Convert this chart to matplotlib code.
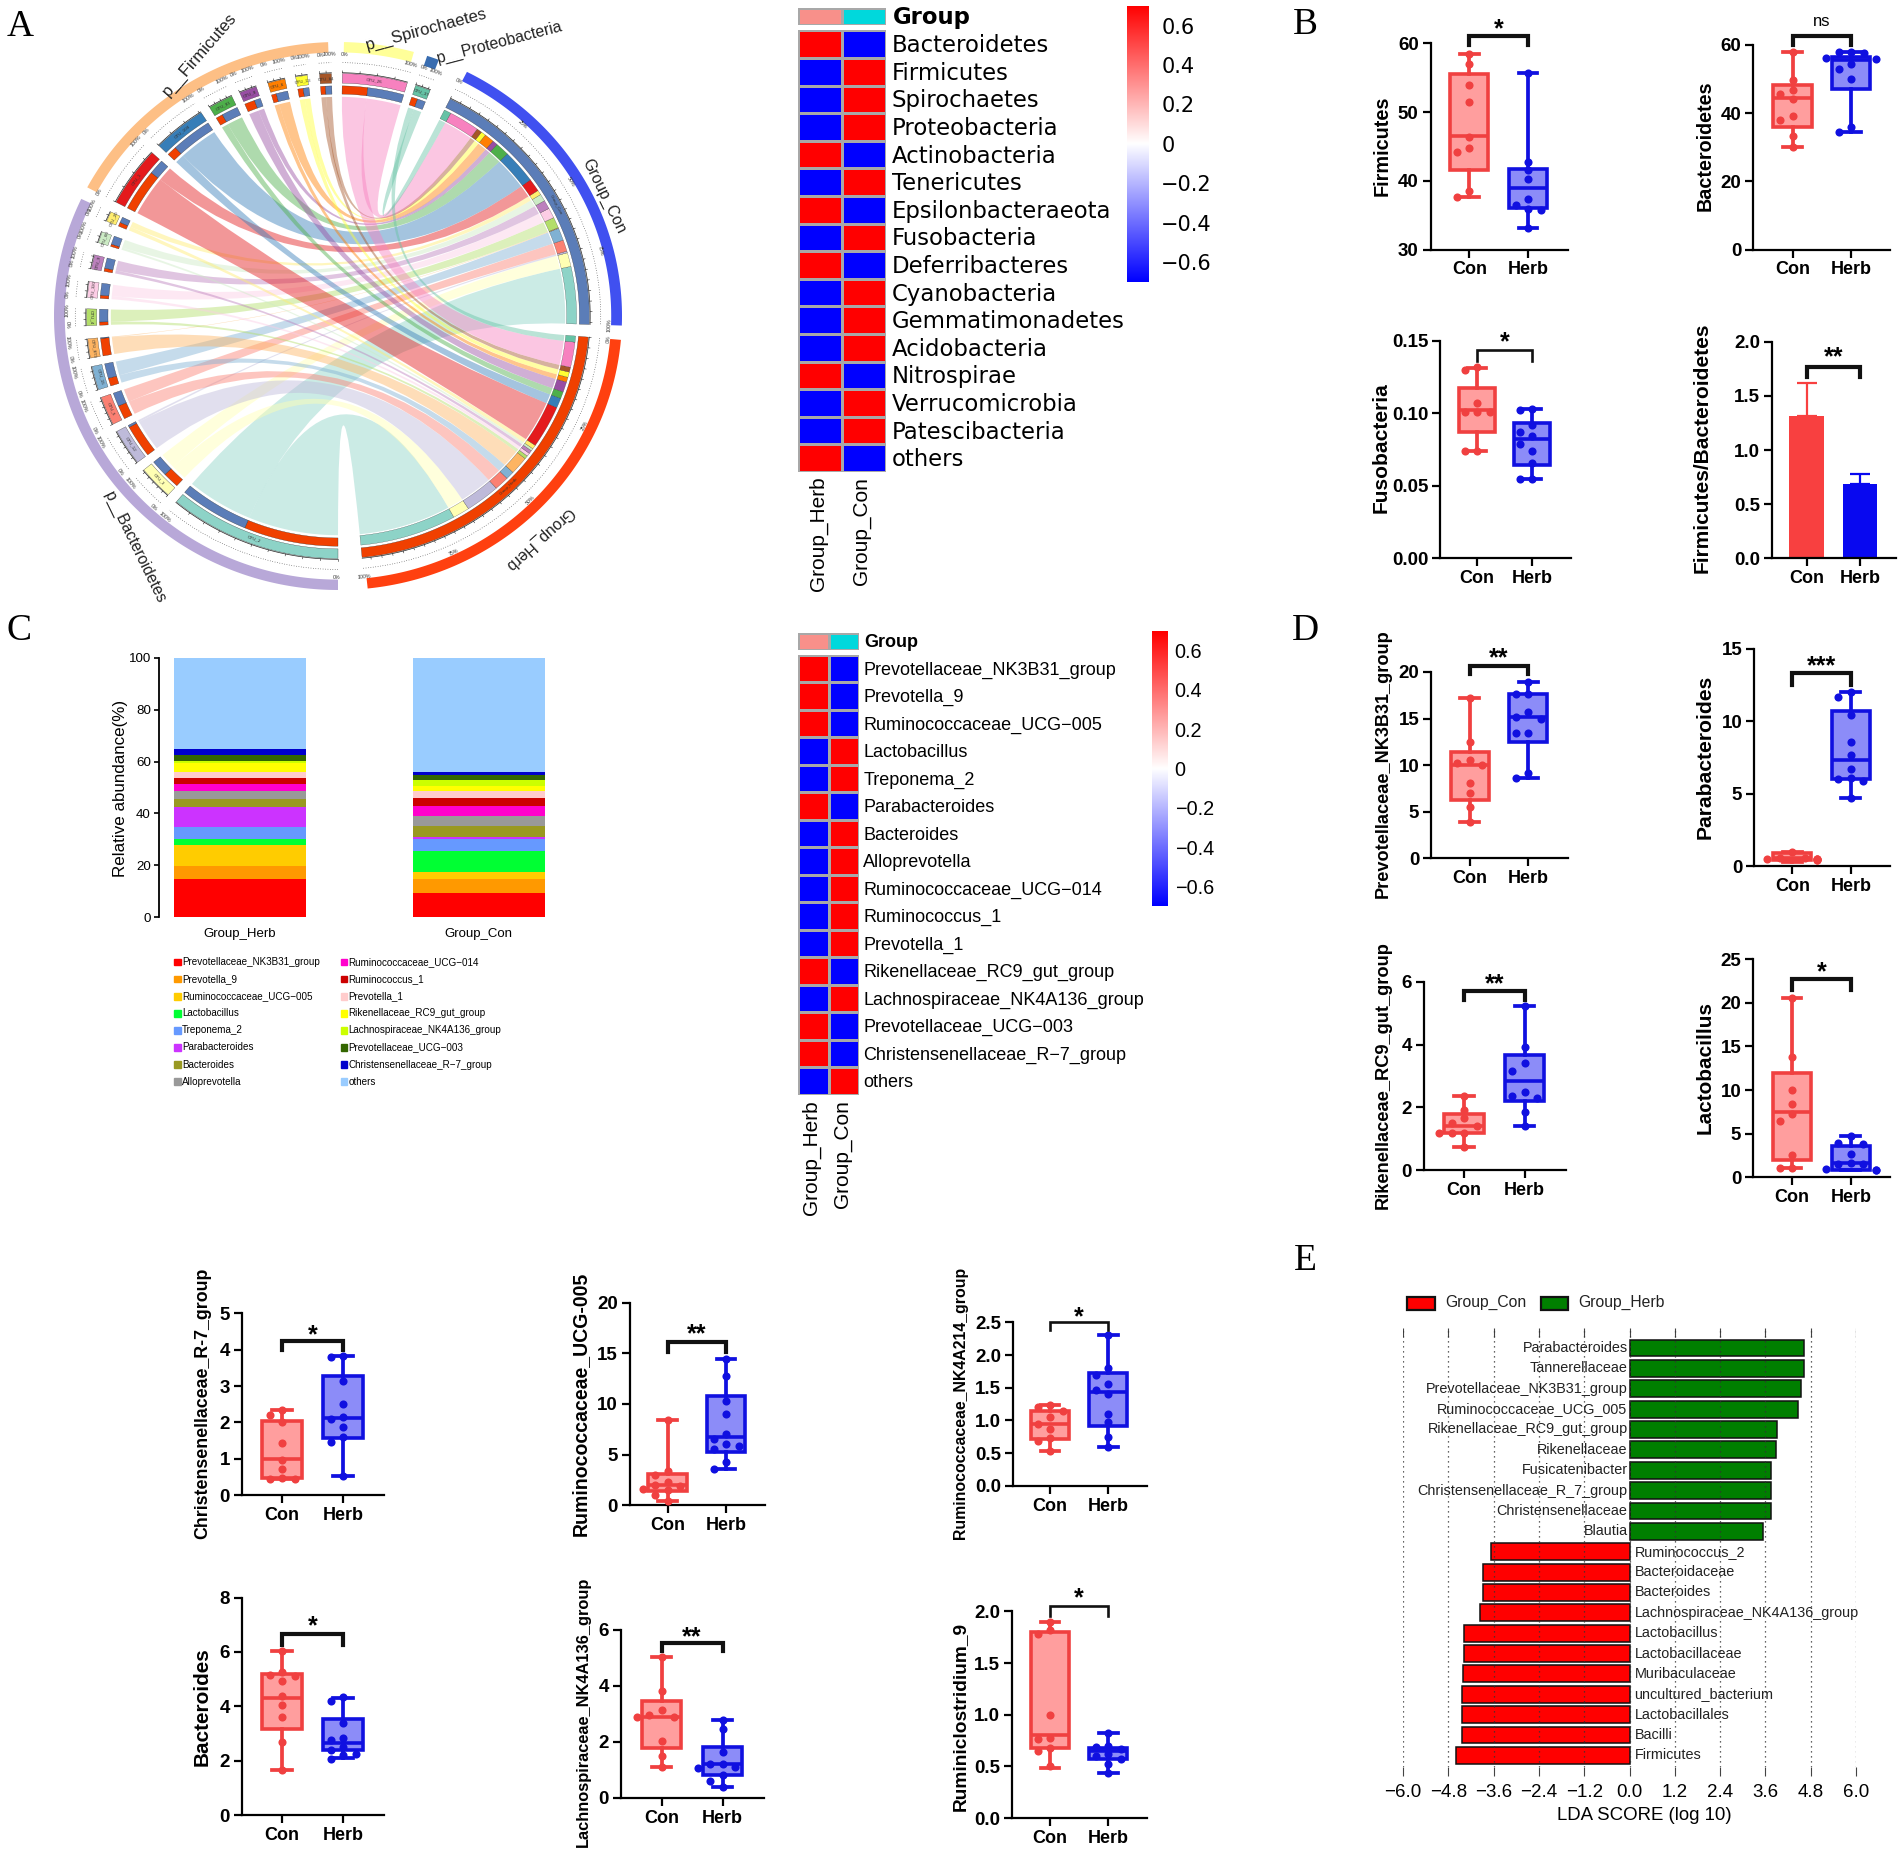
import numpy as np
import matplotlib
matplotlib.use('Agg')
import matplotlib.pyplot as plt
from matplotlib.colors import LinearSegmentedColormap, ListedColormap
from matplotlib.lines import Line2D
from matplotlib.patches import PathPatch, Rectangle
from matplotlib.path import Path
from matplotlib.transforms import ScaledTranslation

plt.rcParams['font.family'] = ['Liberation Sans', 'DejaVu Sans']

W, H = 1902, 1854

# ---- chord diagram (A) : sector name, colour, Herb part, Con part
otu_names = ['OTU_2', 'OTU_3', 'OTU_12', 'OTU_5', 'OTU_15', 'OTU_873', 'OTU_4', 'OTU_320', 'OTU_9', 'OTU_60', 'OTU_20',
             'OTU_1', 'OTU_104', 'OTU_81', 'OTU_8', 'OTU_6', 'OTU_13', 'OTU_84', 'OTU_26', 'OTU_37']
otu_colors = ['#8DD3C7', '#FFFFB3', '#BEBADA', '#FB8072', '#80B1D3', '#FDB462', '#B3DE69', '#FCCDE5', '#BC80BD', '#CCEBC5', '#FFED6F',
              '#E41A1C', '#377EB8', '#4DAF4A', '#984EA3', '#FF7F00', '#FFFF33', '#A65628', '#F781BF', '#66C2A5']
otu_herb = [23, 4, 8.2, 3.5, 2, 4.4, .8, .8, .8, .6, 1, 10.5, 2.4, 1.7, 2.5, 1.2, 1.3, 1.2, 6.2, 1.5]
otu_con = [17, 4.1, .5, 3.4, 3.7, .2, 3.2, 3, 2.6, 2.1, 1.4, 3.8, 10, 4, 1.5, 2.8, 1.4, 1.5, 8.8, 2]
otu_gap_after = [2.5, 2.3, 1.9, 1.9, 2, 3.1, 2.7, 3, 3, 2.7, 2.6, 2.3, 2.3, 2, 2.8, 2.5, 2.8, 2.5, 2, 0]
phylum_names = ['p__Bacteroidetes', 'p__Firmicutes', 'p__Spirochaetes', 'p__Proteobacteria']
phylum_colors = ['#B8A8D8', '#FDBF85', '#FFFF99', '#386CB0']
phylum_spans = [(180, 295.3), (298, 358), (1.2, 15.5), (18.3, 20.8)]

# ---- heatmaps
phyla = ['Bacteroidetes', 'Firmicutes', 'Spirochaetes', 'Proteobacteria', 'Actinobacteria', 'Tenericutes',
         'Epsilonbacteraeota', 'Fusobacteria', 'Deferribacteres', 'Cyanobacteria', 'Gemmatimonadetes',
         'Acidobacteria', 'Nitrospirae', 'Verrucomicrobia', 'Patescibacteria', 'others']
phyla_herb = [.7, -.7, -.7, -.7, .7, -.7, .7, -.7, .7, -.7, -.7, -.7, .7, -.7, -.7, .7]
genera = ['Prevotellaceae_NK3B31_group', 'Prevotella_9', 'Ruminococcaceae_UCG\u2212005', 'Lactobacillus', 'Treponema_2',
          'Parabacteroides', 'Bacteroides', 'Alloprevotella', 'Ruminococcaceae_UCG\u2212014', 'Ruminococcus_1',
          'Prevotella_1', 'Rikenellaceae_RC9_gut_group', 'Lachnospiraceae_NK4A136_group',
          'Prevotellaceae_UCG\u2212003', 'Christensenellaceae_R\u22127_group', 'others']
genera_herb = [.7, .7, .7, -.7, -.7, .7, -.7, -.7, -.7, -.7, -.7, .7, -.7, .7, .7, -.7]
cbar_ticks = [.6, .4, .2, 0, -.2, -.4, -.6]

# ---- stacked bars (C)
stack_names = ['Prevotellaceae_NK3B31_group', 'Prevotella_9', 'Ruminococcaceae_UCG\u2212005', 'Lactobacillus', 'Treponema_2',
               'Parabacteroides', 'Bacteroides', 'Alloprevotella', 'Ruminococcaceae_UCG\u2212014', 'Ruminococcus_1',
               'Prevotella_1', 'Rikenellaceae_RC9_gut_group', 'Lachnospiraceae_NK4A136_group',
               'Prevotellaceae_UCG\u2212003', 'Christensenellaceae_R\u22127_group', 'others']
stack_colors = ['#FF0000', '#FF9900', '#FFCC00', '#00FF33', '#6699FF', '#CC33FF', '#999922', '#999999',
                '#FF00CC', '#CC0000', '#FFCCCC', '#FFFF00', '#CCFF00', '#336600', '#0000CC', '#99CCFF']
stack_herb = [14.6, 5, 8.1, 2.3, 4.8, 7.8, 3, 2.9, 3, 2, 2.5, 3.6, .8, 2, 2.6, 35]
stack_con = [9.5, 5.1, 3, 7.9, 4.8, .8, 4.2, 3.7, 3.9, 3.2, 2.4, 2, 2.5, 1.7, 1.4, 43.9]

# ---- LDA (E)
lda_names = ['Parabacteroides', 'Tannerellaceae', 'Prevotellaceae_NK3B31_group', 'Ruminococcaceae_UCG_005',
             'Rikenellaceae_RC9_gut_group', 'Rikenellaceae', 'Fusicatenibacter', 'Christensenellaceae_R_7_group',
             'Christensenellaceae', 'Blautia', 'Ruminococcus_2', 'Bacteroidaceae', 'Bacteroides',
             'Lachnospiraceae_NK4A136_group', 'Lactobacillus', 'Lactobacillaceae', 'Muribaculaceae',
             'uncultured_bacterium', 'Lactobacillales', 'Bacilli', 'Firmicutes']
lda_vals = [4.61, 4.61, 4.53, 4.46, 3.91, 3.89, 3.76, 3.75, 3.75, 3.53, -3.66, -3.89, -3.89, -3.96,
            -4.40, -4.40, -4.42, -4.43, -4.45, -4.45, -4.61]
lda_ticks = [-6, -4.8, -3.6, -2.4, -1.2, 0, 1.2, 2.4, 3.6, 4.8, 6]

# ---- bar panel (F/B)
fb_means = [1.31, .69]
fb_err = [.31, .09]

# ---- box panels : points, then whisker low, q1, median, q3, whisker high
firm_con = [58.5, 57, 54, 51.4, 46.4, 44.8, 44.2, 38.5, 37.6]
firm_herb = [55.7, 42.8, 41.6, 40.3, 37.3, 36.5, 35.8, 35.9, 33.2]
firm_con_box = [37.7, 41.5, 46.5, 55.5, 58.5]
firm_herb_box = [33.2, 36, 38.9, 41.7, 55.7]
bact_con = [57.8, 49.8, 46.8, 45.5, 44.2, 39.2, 38.1, 33.3, 30]
bact_herb = [58, 57.8, 57.5, 56.2, 55.8, 54.5, 52.8, 50, 35.8, 34.4]
bact_con_box = [30, 36, 44.3, 48.2, 57.8]
bact_herb_box = [34.5, 47, 55.5, 56.5, 58]
fuso_con = [.132, .130, .107, .101, .101, .101, .074, .074]
fuso_herb = [.103, .102, .092, .087, .084, .079, .074, .066, .055, .055]
fuso_con_box = [.074, .087, .102, .117, .131]
fuso_herb_box = [.055, .064, .082, .093, .103]
nk3b_con = [17.2, 12.5, 10.5, 10.2, 10, 8.1, 7, 5.5, 3.9]
nk3b_herb = [18.9, 17.6, 17.6, 15.7, 15.2, 15, 13.5, 13.4, 9.2, 8.6]
nk3b_con_box = [3.9, 6.3, 10, 11.4, 17.2]
nk3b_herb_box = [8.6, 12.5, 15.2, 17.6, 18.9]
para_con = [1, .55, .5, .5, .45, .45, .5, .5, .55]
para_herb = [12, 11.7, 10.4, 8.6, 7.7, 6.7, 6.1, 6, 5.9, 4.7]
para_con_box = [.3, .4, .6, .9, 1]
para_herb_box = [4.7, 6, 7.3, 10.7, 12]
rc9_con = [2.35, 1.93, 1.65, 1.5, 1.42, 1.2, 1.18, 1.18, .75]
rc9_herb = [5.22, 3.92, 3.4, 3.15, 2.5, 2.35, 2.3, 1.85, 1.4]
rc9_con_box = [.73, 1.18, 1.42, 1.78, 2.35]
rc9_herb_box = [1.4, 2.2, 2.85, 3.67, 5.22]
lacto_con = [20.5, 13.8, 10, 8.4, 7.3, 6.5, 2.6, 1.1, 1.1]
lacto_herb = [4.7, 3.9, 3.8, 2.7, 1.6, 1.5, 1.5, 1, .9, .9]
lacto_con_box = [1.1, 2, 7.5, 11.9, 20.5]
lacto_herb_box = [.9, .9, 1.7, 3.6, 4.7]
r7_con = [2.35, 2.2, 2, 1.42, .97, .72, .47, .45, .45]
r7_herb = [3.83, 3.8, 3.13, 2.5, 2.15, 2.1, 1.88, 1.6, 1.45, .52]
r7_con_box = [.45, .47, 1, 2.05, 2.35]
r7_herb_box = [.52, 1.58, 2.12, 3.28, 3.83]
u005_con = [8.4, 3.4, 3, 2.3, 2, 1.9, 1.6, 1.5, 1, .4]
u005_herb = [14.4, 12.8, 10.3, 9, 7, 6.5, 6, 5.8, 5.6, 4.3, 3.6]
u005_con_box = [.4, 1.4, 2, 3.1, 8.4]
u005_herb_box = [3.6, 5.3, 6.7, 10.8, 14.4]
nk214_con = [1.23, 1.2, 1.15, 1.05, .95, .87, .73, .68, .53]
nk214_herb = [2.3, 1.8, 1.7, 1.55, 1.47, 1.4, 1.1, .97, .74, .6]
nk214_con_box = [.53, .72, .95, 1.15, 1.23]
nk214_herb_box = [.6, .92, 1.44, 1.72, 2.3]
bdes_con = [6.03, 5.25, 5.15, 5.12, 4.95, 4.38, 4.05, 3.62, 2.68, 1.68]
bdes_herb = [4.35, 4.2, 3.4, 2.85, 2.75, 2.5, 2.4, 2.25, 2.2, 2.05]
bdes_con_box = [1.68, 3.18, 4.32, 5.18, 6.03]
bdes_herb_box = [2.1, 2.4, 2.65, 3.55, 4.32]
nk136_con = [5.03, 3.83, 3.13, 2.95, 2.9, 2.88, 2.03, 1.5, 1.1]
nk136_herb = [2.77, 2.47, 1.63, 1.22, 1.2, 1.1, 1.08, .83, .6, .4]
nk136_con_box = [1.1, 1.8, 2.9, 3.47, 5.03]
nk136_herb_box = [.4, .83, 1.2, 1.82, 2.77]
rumi_con = [1.9, 1.82, 1.78, 1, .78, .77, .68, .65, .5]
rumi_herb = [.82, .7, .69, .67, .62, .6, .57, .52, .44]
rumi_con_box = [.49, .68, .8, 1.8, 1.9]
rumi_herb_box = [.44, .57, .65, .68, .82]

RED, RED_FILL = '#F04040', '#FF9E9E'
BLUE, BLUE_FILL = '#1010E0', '#8C8CF8'

fig = plt.figure(figsize=(W / 100, H / 100), dpi=100)
rend = fig.canvas.get_renderer()


def axpx(l, t, r, b):
    return fig.add_axes([l / W, 1 - b / H, (r - l) / W, (b - t) / H])


def tpx(x, y, s, **kw):
    return fig.text(x / W, 1 - y / H, s, **kw)


def fit(t, span):
    # scale the font so the text is as long as the picture has it
    bb = t.get_window_extent(rend)
    t.set_fontsize(t.get_fontsize() * span / max(bb.width, bb.height))


def swarm(vals, step, near):
    # prism style spreading, in pixels
    placed = []
    for v in sorted(vals, reverse=True):
        for k in [0, -1, 1, -2, 2]:
            if all(abs(k * step - x) > 1 or abs(v - y) > near for x, y in placed):
                break
        placed.append((k * step, v))
    return placed


def bracket(xc, xh, top, bot, star, star_y, lw=3):
    fig.add_artist(Line2D([xc / W, xc / W, xh / W, xh / W],
                          [1 - bot / H, 1 - top / H, 1 - top / H, 1 - bot / H],
                          color='#111111', lw=lw, solid_joinstyle='miter'))
    if star == 'ns':
        tpx((xc + xh) / 2, star_y, star, ha='center', va='center', fontsize=12)
    else:
        tpx((xc + xh) / 2, star_y + 13, star, ha='center', va='baseline', fontsize=18, fontweight='bold')


def base_axes(geo, yticks, fmt):
    l, r, t, b, xc, xh = geo
    ax = axpx(l, t, r, b)
    u = xh - xc
    ax.set_xlim(1 - (xc - l) / u, 2 + (r - xh) / u)
    ax.set_ylim(yticks[0], yticks[-1])
    ax.patch.set_alpha(0)
    for s in ['top', 'right']:
        ax.spines[s].set_visible(False)
    for s in ['left', 'bottom']:
        ax.spines[s].set_linewidth(1.6)
    ax.set_xticks([1, 2])
    labs = ax.set_xticklabels(['Con', 'Herb'], fontsize=13, fontweight='bold')
    labs[0].set_transform(labs[0].get_transform() + ScaledTranslation(-2.5 / 72, 0, fig.dpi_scale_trans))
    ax.set_yticks(yticks)
    ax.set_yticklabels([fmt % v for v in yticks], fontsize=13.5, fontweight='bold')
    ax.tick_params(length=5.5, width=1.6, pad=3)
    return ax


def box_panel(name, con, herb, con_box, herb_box, yticks, fmt, geo, br, lab):
    l, r, t, b, xc, xh = geo
    ax = base_axes(geo, yticks, fmt)
    u = xh - xc
    scale = (b - t) / (yticks[-1] - yticks[0])
    for pos, pts, st, col, fill in [(1, con, con_box, RED, RED_FILL), (2, herb, herb_box, BLUE, BLUE_FILL)]:
        stats = [dict(whislo=st[0], q1=st[1], med=st[2], q3=st[3], whishi=st[4], fliers=[])]
        ax.bxp(stats, positions=[pos], widths=.65, patch_artist=True, showfliers=False, capwidths=.32,
               manage_ticks=False,
               boxprops=dict(facecolor=fill, edgecolor=col, lw=2.6),
               medianprops=dict(color=col, lw=2.6),
               whiskerprops=dict(color=col, lw=2.7),
               capprops=dict(color=col, lw=2.7))
        sw = swarm(pts, 12.5, 8 / scale)
        ax.scatter([pos + p[0] / u for p in sw], [p[1] for p in sw], s=34, color=col, zorder=5, clip_on=False,
                   linewidths=0)
    bracket(xc, xh, *br)
    t_ = tpx(lab[0], lab[1], name, rotation=90, ha='center', va='center', fontsize=13, fontweight='bold')
    fit(t_, lab[2])
    return ax


box_panel('Firmicutes', firm_con, firm_herb, firm_con_box, firm_herb_box, [30, 40, 50, 60], '%d',
          (1430.5, 1567.6, 43.4, 249.5, 1469.3, 1528), (35.7, 45.3, '*', 23), (1382.5, 145.4, 100))
box_panel('Bacteroidetes', bact_con, bact_herb, bact_con_box, bact_herb_box, [0, 20, 40, 60], '%d',
          (1753.4, 1890, 44.9, 249.5, 1792.5, 1851.2), (35.7, 45.3, 'ns', 21), (1705, 146.2, 130))
box_panel('Fusobacteria', fuso_con, fuso_herb, fuso_con_box, fuso_herb_box, [0, .05, .10, .15], '%.2f',
          (1440, 1570.6, 340.5, 558.5, 1477, 1532.2), (350, 361, '*', 336, 1.9), (1381.4, 447.8, 130))
box_panel('Prevotellaceae_NK3B31_group', nk3b_con, nk3b_herb, nk3b_con_box, nk3b_herb_box, [0, 5, 10, 15, 20], '%d',
          (1431, 1567.6, 672, 858.3, 1469.7, 1528.2), (666, 674, '**', 652.7), (1383, 764, 267))
box_panel('Parabacteroides', para_con, para_herb, para_con_box, para_herb_box, [0, 5, 10, 15], '%d',
          (1754, 1890, 648.7, 866.2, 1792.3, 1850.8), (673, 685, '***', 660), (1705.6, 757, 164))
box_panel('Rikenellaceae_RC9_gut_group', rc9_con, rc9_herb, rc9_con_box, rc9_herb_box, [0, 2, 4, 6], '%d',
          (1423.5, 1565.8, 981.7, 1170.3, 1464, 1524.6), (990.8, 999.5, '**', 978.5), (1383.7, 1075, 268))
box_panel('Lactobacillus', lacto_con, lacto_herb, lacto_con_box, lacto_herb_box, [0, 5, 10, 15, 20, 25], '%d',
          (1753, 1890, 959, 1177.4, 1792, 1850.8), (979, 990.4, '*', 966), (1705.6, 1067.5, 132.5))
box_panel('Christensenellaceae_R-7_group', r7_con, r7_herb, r7_con_box, r7_herb_box, [0, 1, 2, 3, 4, 5], '%d',
          (241.7, 383.6, 1313.4, 1495, 282, 343.3), (1340.9, 1350.3, '*', 1329), (202.5, 1403.7, 269))
box_panel('Ruminococcaceae_UCG-005', u005_con, u005_herb, u005_con_box, u005_herb_box, [0, 5, 10, 15, 20], '%d',
          (629.6, 765.2, 1302.5, 1505.3, 667.5, 726), (1342, 1352, '**', 1328.8), (580, 1403.7, 265))
box_panel('Ruminococcaceae_NK4A214_group', nk214_con, nk214_herb, nk214_con_box, nk214_herb_box,
          [0, .5, 1, 1.5, 2, 2.5], '%.1f',
          (1012.7, 1146.7, 1322.4, 1485.7, 1050, 1108.3), (1322, 1330, '*', 1311.6, 1.9), (960.7, 1403, 271.6))
box_panel('Bacteroides', bdes_con, bdes_herb, bdes_con_box, bdes_herb_box, [0, 2, 4, 6, 8], '%d',
          (241.7, 383.6, 1597.5, 1815.3, 282, 343), (1633.6, 1644.5, '*', 1620), (202.5, 1706.6, 118.5))
box_panel('Lachnospiraceae_NK4A136_group', nk136_con, nk136_herb, nk136_con_box, nk136_herb_box, [0, 2, 4, 6], '%d',
          (620.9, 763.6, 1629.8, 1798, 661.6, 722.5), (1642.6, 1650.5, '**', 1631.7), (583.3, 1712, 269))
box_panel('Ruminiclostridium_9', rumi_con, rumi_herb, rumi_con_box, rumi_herb_box, [0, .5, 1, 1.5, 2], '%.1f',
          (1011.7, 1146.7, 1611.3, 1818.2, 1050, 1108.3), (1606, 1616, '*', 1592, 1.9), (960.7, 1716, 189))

# F/B bars
geo = (1771.8, 1895.8, 341.6, 558.5, 1806.7, 1860)
ax = base_axes(geo, [0, .5, 1, 1.5, 2], '%.1f')
ax.bar([1], fb_means[0], width=.65, color='#F84040')
ax.bar([2], fb_means[1], width=.65, color='#0808F0')
ax.errorbar([1], fb_means[0], yerr=[[0], [fb_err[0]]], color='#F84040', capsize=7.5, lw=1.6, capthick=1.6)
ax.errorbar([2], fb_means[1], yerr=[[0], [fb_err[1]]], color='#0808F0', capsize=7.5, lw=1.6, capthick=1.6)
bracket(geo[4], geo[5], 366.6, 377, '**', 351)
fit(tpx(1702.3, 447.8, 'Firmicutes/Bacteroidetes', rotation=90, ha='center', va='center', fontsize=13,
        fontweight='bold'), 249)

# heatmaps
bwr = LinearSegmentedColormap.from_list('bwr2', ['#0000FF', '#FFFFFF', '#FF0000'])


def heat(names, herb, l, r, t, b, gt, gb, lx, fs, fam, gx, colx, coltop, cb, cticks_x, cfs):
    ax = axpx(l, t, r, b)
    vals = np.array([herb, [-v for v in herb]]).T
    ax.pcolormesh(vals, cmap=bwr, vmin=-.7, vmax=.7, edgecolors='#A8A8A8', linewidth=1)
    ax.set_ylim(len(names), 0)
    ax.axis('off')
    ag = axpx(l, gt, r, gb)
    ag.pcolormesh(np.array([[0, 1]]), cmap=ListedColormap(['#F8908A', '#00D8DC']), edgecolors='#A8A8A8', linewidth=1)
    ag.axis('off')
    rh = (b - t) / len(names)
    for i, n in enumerate(names):
        tpx(lx, t + (i + .5) * rh + 1.5, n, ha='left', va='center', fontsize=fs, family=fam)
    tpx(gx, (gt + gb) / 2 + 1.5, 'Group', ha='left', va='center', fontsize=fs, fontweight='bold', family=fam)
    tpx(colx[0], coltop, 'Group_Herb', rotation=90, ha='center', va='top', fontsize=15)
    tpx(colx[1], coltop, 'Group_Con', rotation=90, ha='center', va='top', fontsize=15)
    ac = axpx(*cb)
    ac.imshow(np.linspace(.7, -.7, 256)[:, None], cmap=bwr, vmin=-.7, vmax=.7, aspect='auto', extent=(0, 1, -.7, .7))
    ac.set_xticks([])
    ac.yaxis.tick_right()
    ac.set_yticks(cbar_ticks)
    ac.set_yticklabels([('%g' % v).replace('-', '\u2212') for v in cbar_ticks], fontsize=cfs, family=fam)
    ac.tick_params(length=0, pad=cticks_x)
    for s in ac.spines.values():
        s.set_visible(False)


heat(phyla, phyla_herb, 798.3, 886, 30.4, 472, 7.8, 25, 891.7, 16.4, ['DejaVu Sans'], 892.5, (818, 861.7), 476.7,
     (1127, 5.8, 1148.7, 282), 9, 15)
heat(genera, genera_herb, 798.3, 859, 655, 1094.7, 632.8, 650, 863.3, 13, ['Liberation Sans'], 864, (811.7, 842.3),
     1100.5, (1151.7, 631, 1167, 906), 5.5, 14.3)

# stacked bars
ax = axpx(158.7, 657.7, 560, 917.3)
ax.set_xlim(-(239.8 - 158.7) / 238.9, (560 - 239.8) / 238.9)
ax.set_ylim(0, 100)
bot_h, bot_c = 0, 0
for nm, c, vh, vc in zip(stack_names, stack_colors, stack_herb, stack_con):
    ax.bar(0, vh, bottom=bot_h, width=.551, color=c, linewidth=0)
    ax.bar(1, vc, bottom=bot_c, width=.551, color=c, linewidth=0)
    bot_h += vh
    bot_c += vc
for s in ['top', 'right', 'bottom']:
    ax.spines[s].set_visible(False)
ax.spines['left'].set_linewidth(1.3)
ax.set_xticks([0, 1])
ax.set_xticklabels(['Group_Herb', 'Group_Con'], fontsize=9.5)
ax.tick_params(axis='x', length=0, pad=8)
ax.set_yticks(range(0, 101, 20))
ax.tick_params(axis='y', length=3.6, width=1.2, labelsize=9.6, pad=2)
fit(tpx(120.7, 788, 'Relative abundance(%)', rotation=90, ha='center', va='center', fontsize=12), 177)
for i, (nm, c) in enumerate(zip(stack_names, stack_colors)):
    col, row = divmod(i, 8)
    x0 = 174 + col * 166.7
    y0 = 962 + row * 17.1
    fig.add_artist(Rectangle((x0 / W, 1 - (y0 + 3.3) / H), 6.5 / W, 6.6 / H, color=c, transform=fig.transFigure))
    tpx(x0 + 7.8, y0, nm, ha='left', va='center', fontsize=7.1)

# LDA
pxu = (1856 - 1403.2) / 12
row_h = 20.35
ax = axpx(1403.2, 1328, 1856, 1766.9)
ax.set_xlim(-6, 6)
y_top = -(1348 - 1328) / row_h
ax.set_ylim(20 + (1766.9 - 1755.4) / row_h, y_top)
ax.barh(range(len(lda_vals)), lda_vals, height=.83, color=['#007F00' if v > 0 else '#FF0000' for v in lda_vals],
        edgecolor='#111111', linewidth=1.1, zorder=2)
for s in ax.spines.values():
    s.set_visible(False)
ax.set_xticks(lda_ticks)
ax.set_xticklabels([('%.1f' % v).replace('-', '\u2212') for v in lda_ticks], fontsize=13.5)
ax.tick_params(axis='x', length=6.5, width=.8, color='#444444', pad=6)
ax.set_yticks([])
ax.vlines(lda_ticks, y_top, y_top + 9 / row_h, color='#444444', lw=.8)
ax.grid(axis='x', ls=(0, (1, 3)), color='#333333', lw=.9, zorder=3)
ax.set_axisbelow(False)
for i, (n, v) in enumerate(zip(lda_names, lda_vals)):
    if v > 0:
        ax.text(-2 / pxu, i, n, ha='right', va='center', fontsize=10.4, color='#222222')
    else:
        ax.text(5 / pxu, i, n, ha='left', va='center', fontsize=10.4, color='#222222')
tpx(1644, 1815.7, 'LDA SCORE (log 10)', ha='center', va='center', fontsize=13.4)
for x0, c, nm, tx in [(1407.4, '#FF0000', 'Group_Con', 1445.4), (1540.8, '#007F00', 'Group_Herb', 1578.5)]:
    fig.add_artist(Rectangle((x0 / W, 1 - 1310 / H), 27.6 / W, 13 / H, facecolor=c, edgecolor='#111111', lw=1.6,
                             transform=fig.transFigure))
    tpx(tx, 1302.6, nm, ha='left', va='center', fontsize=11.3, color='#222222')

# chord diagram
CX, CY, RX, RY = 338, 316, 284, 274
PAD = 1.1
ax = axpx(CX - RX * PAD, CY - RY * PAD, CX + RX * PAD, CY + RY * PAD)
ax.set_xlim(-PAD, PAD)
ax.set_ylim(-PAD, PAD)
ax.axis('off')


def pol(a, r):
    th = np.radians(a)
    return r * np.sin(th), r * np.cos(th)


def band(a1, a2, r1, r2, color, ec='none', lw=0., z=3):
    n = max(int(abs(a2 - a1)) * 2, 4)
    aa = np.linspace(a1, a2, n)
    xo, yo = pol(aa, r2)
    xi, yi = pol(aa[::-1], r1)
    ax.fill(np.r_[xo, xi], np.r_[yo, yi], color=color, ec=ec, lw=lw, zorder=z)


def tiny(a, r, s, fs=3.8):
    x, y = pol(a, r)
    rot = -a if (a % 360 < 90 or a % 360 > 270) else 180 - a
    ax.text(x, y, s, ha='center', va='center', rotation=rot, fontsize=fs, color='#333333', zorder=6)


def dotted(a1, a2, r):
    x, y = pol(np.linspace(a1, a2, max(int(abs(a2 - a1)) * 2, 3)), r)
    ax.plot(x, y, ls=(0, (1, 2.5)), lw=.5, color='#444444', zorder=2)


def ruler(a1, a2, r, step):
    x, y = pol(np.linspace(a1, a2, max(int(abs(a2 - a1)) * 2, 3)), r)
    ax.plot(x, y, lw=.5, color='#222222', zorder=4)
    for a in np.arange(a1, a2, step):
        x0, y0 = pol(a, r)
        x1, y1 = pol(a, r + .007)
        ax.plot([x0, x1], [y0, y1], lw=.4, color='#222222', zorder=4)


def ribbon(a1, a2, b1, b2, color, r=.80):
    aa = np.linspace(a1, a2, max(int(a2 - a1) + 2, 3))
    bb = np.linspace(b1, b2, max(int(b2 - b1) + 2, 3))
    pa = np.array(pol(aa, r)).T
    pb = np.array(pol(bb, r)).T
    verts = list(pa) + [(0, 0), pb[0]] + list(pb[1:]) + [(0, 0), pa[0]]
    codes = [Path.MOVETO] + [Path.LINETO] * (len(pa) - 1) + [Path.CURVE3, Path.CURVE3] + \
            [Path.LINETO] * (len(pb) - 1) + [Path.CURVE3, Path.CURVE3]
    ax.add_patch(PathPatch(Path(verts, codes), facecolor=color, edgecolor='none', alpha=.45, zorder=1))


CON_SPAN = (26.5, 92.)
HERB_SPAN = (95., 174.5)
con_k = (CON_SPAN[1] - CON_SPAN[0]) / sum(otu_con)
herb_k = (HERB_SPAN[1] - HERB_SPAN[0]) / sum(otu_herb)

# group side slots run opposite to the OTU order
slots = {}
a_c, a_h = CON_SPAN[0], HERB_SPAN[0]
for i in range(len(otu_names) - 1, -1, -1):
    slots[i] = ((a_c, a_c + otu_con[i] * con_k), (a_h, a_h + otu_herb[i] * herb_k))
    a_c += otu_con[i] * con_k
    a_h += otu_herb[i] * herb_k

a = 180.
for i, (nm, col) in enumerate(zip(otu_names, otu_colors)):
    ah, ac = otu_herb[i], otu_con[i]
    band(a, a + ah + ac, .85, .885, col, ec='#222222', lw=.2)
    band(a, a + ah, .81, .84, '#F04000', ec='#222222', lw=.2)
    band(a + ah, a + ah + ac, .81, .84, '#5B7DB8', ec='#222222', lw=.2)
    ruler(a, a + ah + ac, .888, 4 if ah + ac > 10 else 1.5)
    dotted(a, a + ah + ac, .925)
    tiny(a + .4, .955, '0%')
    tiny(a + ah + ac - .4, .955, '100%')
    tiny(a + (ah + ac) / 2, .867, nm, fs=3.2)
    s_c, s_h = slots[i]
    ribbon(a, a + ah, *s_h, col)
    ribbon(a + ah, a + ah + ac, *s_c, col)
    band(s_c[0], s_c[1], .805, .84, col, ec='#222222', lw=.15)
    band(s_h[0], s_h[1], .805, .84, col, ec='#222222', lw=.15)
    a += ah + ac + otu_gap_after[i]

band(CON_SPAN[0], CON_SPAN[1], .85, .885, '#5B7DB8', ec='#222222', lw=.2)
band(HERB_SPAN[0], HERB_SPAN[1], .85, .885, '#F04000', ec='#222222', lw=.2)
ruler(CON_SPAN[0], CON_SPAN[1], .888, 2.5)
ruler(HERB_SPAN[0], HERB_SPAN[1], .888, 2.5)
dotted(CON_SPAN[0], CON_SPAN[1], .925)
dotted(HERB_SPAN[0], HERB_SPAN[1], .925)
for frac, lab in [(0, '0%'), (.25, '25%'), (.5, '50%'), (.75, '75%'), (1, '100%')]:
    tiny(CON_SPAN[0] + frac * (CON_SPAN[1] - CON_SPAN[0]), .955, lab)
    tiny(HERB_SPAN[0] + frac * (HERB_SPAN[1] - HERB_SPAN[0]), .955, lab)
tiny(62, .867, 'Group_Con', fs=3.2)
tiny(136, .867, 'Group_Herb', fs=3.2)

for sp, c in zip(phylum_spans, phylum_colors):
    band(sp[0], sp[1], .962, 1, c)
band(27, 92, .962, 1, '#4050F0')
band(95, 174, .962, 1, '#FF4010')

for s, x, y, rot, fs in [('p__Firmicutes', 200, 54.5, 49, 12), ('p__Spirochaetes', 426.5, 29, 15, 12),
                         ('p__Proteobacteria', 500, 42.8, 14.6, 11.4), ('Group_Con', 604, 196.5, -64, 11.3),
                         ('Group_Herb', 538.8, 539, 222, 11.3), ('p__Bacteroidetes', 134.7, 546.7, -64, 11.3)]:
    tpx(x, y, s, ha='center', va='center', rotation=rot, rotation_mode='anchor', fontsize=fs, color='#222222')

# panel letters
for s, x, y in [('A', 20.4, 27), ('B', 1305, 25), ('C', 19, 631), ('D', 1305, 631), ('E', 1305, 1261)]:
    tpx(x, y, s, ha='center', va='center', fontsize=27, family='Liberation Serif')

fig.savefig('out.png', dpi=100)
